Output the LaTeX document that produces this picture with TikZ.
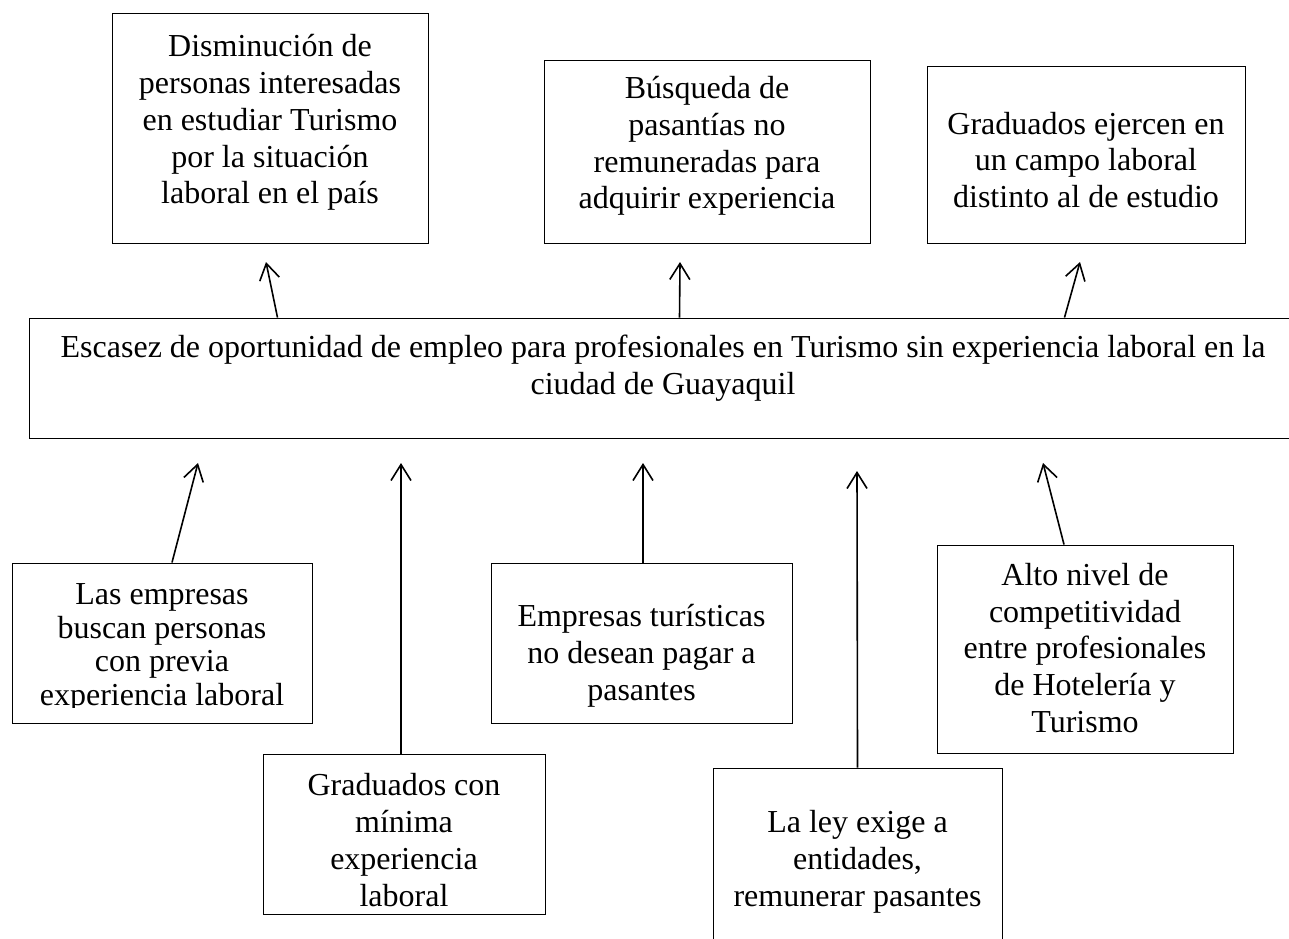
\documentclass[tikz,border=0pt]{standalone}
\usepackage{fontspec}
\setmainfont{Liberation Serif}
\usetikzlibrary{arrows.meta}

\begin{document}
\begin{tikzpicture}[x=1pt, y=-1pt,
  caja/.style={draw, line width=1pt, inner sep=0pt},
  txt/.style={align=center, inner sep=0pt, font=\fontsize{32}{36.8}\selectfont},
  flecha/.style={-{Straight Barb[length=16pt,width=20pt]}, line width=1.6pt}]
\clip (0,0) rectangle (1289,938);
% Efectos
\node[caja, minimum width=316pt, minimum height=230pt] (e1) at (270,128) {};
\node[caja, minimum width=326pt, minimum height=183pt] (e2) at (707,151.5) {};
\node[caja, minimum width=318pt, minimum height=177pt] (e3) at (1086,154.5) {};
\node[txt] (e1t) at (270,122.5) {Disminución de\\personas interesadas\\en estudiar Turismo\\por la situación\\laboral en el país};
\node[txt] (e2t) at (707,146) {Búsqueda de\\pasantías no\\remuneradas para\\adquirir experiencia};
\node[txt] (e3t) at (1086,160) {Graduados ejercen en\\un campo laboral\\distinto al de estudio};
% Problema
\node[caja, minimum width=1268pt, minimum height=120pt] (p) at (663,378) {};
\node[txt] (pt) at (663,368.5) {Escasez de oportunidad de empleo para profesionales en Turismo sin experiencia laboral en la\\ciudad de Guayaquil};
% Causas
\node[caja, minimum width=300pt, minimum height=160pt] (c1) at (162,643) {};
\node[caja, minimum width=282pt, minimum height=160pt] (c2) at (404,834) {};
\node[caja, minimum width=301pt, minimum height=160pt] (c3) at (641.5,643) {};
\node[caja, minimum width=296pt, minimum height=208pt] (c4) at (1085,649) {};
\node[caja, minimum width=289pt, minimum height=192pt] (c5) at (857.5,864) {};
\begin{scope}
\clip (c1.north west) rectangle ([yshift=16pt]c1.south east);
\node[txt, font=\fontsize{32}{33.4}\selectfont] (c1t) at (162,648) {Las empresas\\buscan personas\\con previa\\experiencia laboral};
\end{scope}
\node[txt] (c2t) at (404,840) {Graduados con\\mínima\\experiencia\\laboral};
\node[txt] (c3t) at (641.5,656) {Empresas turísticas\\no desean pagar a\\pasantes};
\node[txt] (c4t) at (1085,648) {Alto nivel de\\competitividad\\entre profesionales\\de Hotelería y\\Turismo};
\node[txt] (c5t) at (857.5,862) {La ley exige a\\entidades,\\remunerar pasantes};
% Puntas de flecha
\coordinate (f1) at (198,463);
\coordinate (f2) at (401,463);
\coordinate (f3) at (643,463);
\coordinate (f4) at (857,471);
\coordinate (f5) at (1043,463);
\coordinate (g1) at (266,262);
\coordinate (g2) at (680,262);
\coordinate (g3) at (1080,262);
% Flechas
\draw[flecha] ([xshift=10pt]c1.north) -- (f1);
\draw[flecha] ([xshift=-3pt]c2.north) -- (f2);
\draw[flecha] ([xshift=1.5pt]c3.north) -- (f3);
\draw[flecha] (c5.north) -- (f4);
\draw[flecha] ([xshift=-21pt]c4.north) -- (f5);
\draw[flecha] ([xshift=249pt]p.north west) -- (g1);
\draw[flecha] ([xshift=651pt]p.north west) -- (g2);
\draw[flecha] ([xshift=1036pt]p.north west) -- (g3);
\end{tikzpicture}
\end{document}
